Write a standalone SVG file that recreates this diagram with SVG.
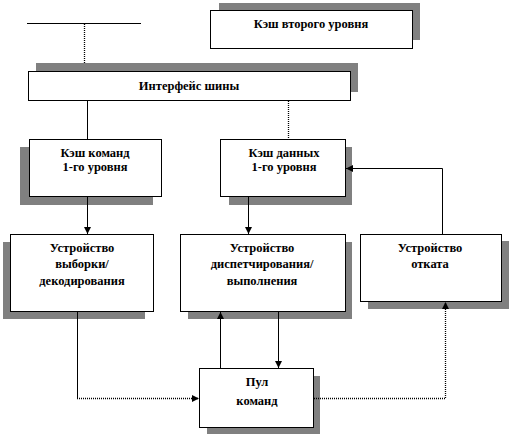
<svg xmlns="http://www.w3.org/2000/svg" width="512" height="436" viewBox="0 0 512 436">
<style>
.sh{fill:#808080}
.bx{fill:#fff;stroke:#000;stroke-width:1}
.t{font-family:"Liberation Serif","Times New Roman",serif;font-weight:bold;font-size:12.5px;text-anchor:middle;fill:#000}
.c{fill:none;stroke:#000;stroke-width:1}
.d{stroke-dasharray:1,1;stroke-width:1.3}
</style>
<defs>
<marker id="a" viewBox="0 0 8 8" refX="8" refY="4" markerWidth="7" markerHeight="7" orient="auto" markerUnits="userSpaceOnUse">
<path d="M0,0L8,4L0,8z" fill="#000"/>
</marker>
</defs>
<rect width="512" height="436" fill="#fff"/>
<g id="l2cache">
<rect class="sh" x="219" y="3" width="201" height="37"/>
<rect class="bx" x="210.5" y="10.5" width="202" height="38"/>
<text class="t" x="311" y="28">Кэш второго уровня</text>
</g>
<g id="bus">
<rect class="sh" x="36" y="63" width="322" height="29"/>
<rect class="bx" x="28.5" y="71.5" width="322" height="29"/>
<text class="t" x="189" y="90">Интерфейс шины</text>
</g>
<g id="icache">
<rect class="sh" x="20" y="147" width="133" height="58"/>
<rect class="bx" x="29.5" y="139.5" width="132" height="57"/>
<text class="t" x="95" y="157">Кэш команд</text>
<text class="t" x="95" y="171">1-го  уровня</text>
</g>
<g id="dcache">
<rect class="sh" x="229" y="147" width="123" height="58"/>
<rect class="bx" x="220.5" y="139.5" width="125" height="57"/>
<text class="t" x="284" y="157">Кэш данных</text>
<text class="t" x="284" y="171">1-го  уровня</text>
</g>
<g id="fetch">
<rect class="sh" x="3" y="242" width="142" height="77"/>
<rect class="bx" x="10.5" y="234.5" width="143" height="77"/>
<text class="t" x="82" y="252">Устройство</text>
<text class="t" x="82" y="268">выборки/</text>
<text class="t" x="82" y="285">декодирования</text>
</g>
<g id="dispatch">
<rect class="sh" x="188" y="242" width="164" height="77"/>
<rect class="bx" x="180.5" y="234.5" width="165" height="77"/>
<text class="t" x="262" y="252">Устройство</text>
<text class="t" x="262" y="268">диспетчирования/</text>
<text class="t" x="262" y="285">выполнения</text>
</g>
<g id="retire">
<rect class="sh" x="368" y="241" width="141" height="68"/>
<rect class="bx" x="360.5" y="234.5" width="141" height="67"/>
<text class="t" x="430" y="252">Устройство</text>
<text class="t" x="430" y="268">отката</text>
</g>
<g id="pool">
<rect class="sh" x="207" y="376" width="113" height="58"/>
<rect class="bx" x="199.5" y="368.5" width="114" height="59"/>
<text class="t" x="257" y="386">Пул</text>
<text class="t" x="257" y="405">команд</text>
</g>
<g id="connectors">
<line class="c" x1="27" y1="23.5" x2="141" y2="23.5"/>
<line class="c d" x1="84.5" y1="24" x2="84.5" y2="63"/>
<line class="c" x1="87.5" y1="101" x2="87.5" y2="139"/>
<line class="c d" x1="288.5" y1="101" x2="288.5" y2="139"/>
<line class="c" x1="87.5" y1="197" x2="87.5" y2="234" marker-end="url(#a)"/>
<line class="c" x1="248.5" y1="197" x2="248.5" y2="234" marker-end="url(#a)"/>
<polyline class="c" points="442.5,234 442.5,168.5 346,168.5" marker-end="url(#a)"/>
<polyline class="c" points="77.5,312 77.5,398.5" />
<line class="c d" x1="77" y1="398.5" x2="199" y2="398.5" marker-end="url(#a)"/>
<line class="c" x1="220.5" y1="368" x2="220.5" y2="312" marker-end="url(#a)"/>
<line class="c" x1="278.5" y1="312" x2="278.5" y2="368" marker-end="url(#a)"/>
<polyline class="c d" points="314,398.5 445.5,398.5 445.5,302" marker-end="url(#a)"/>
</g>
</svg>
